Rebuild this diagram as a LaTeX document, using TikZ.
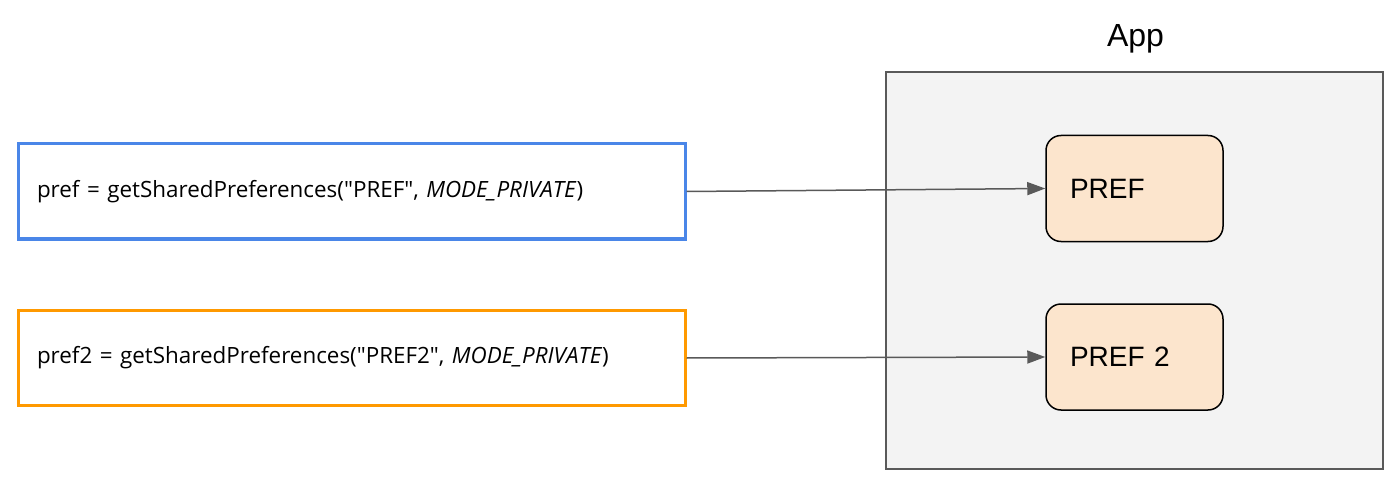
\documentclass[tikz,border=0pt]{standalone}
\usepackage{fontspec}
\setmainfont{Liberation Sans}
\newfontfamily\codefont{Open Sans}
\usetikzlibrary{arrows.meta}
\definecolor{gblue}{HTML}{4A86E8}
\definecolor{gorange}{HTML}{FF9900}
\definecolor{appfill}{HTML}{F3F3F3}
\definecolor{appline}{HTML}{595959}
\definecolor{preffill}{HTML}{FCE5CD}
\definecolor{arrowgray}{HTML}{595959}
\tikzset{
  codebox/.style={draw, line width=3pt, fill=white, minimum width=667pt, minimum height=95pt,
    text width=629pt, inner xsep=19pt, inner ysep=0pt, align=left,
    font=\codefont\fontsize{22.4pt}{26pt}\selectfont},
  appbox/.style={draw=appline, line width=2pt, fill=appfill, minimum width=497pt, minimum height=397pt, inner sep=0pt},
  prefbox/.style={draw=black, line width=1.5pt, fill=preffill, rounded corners=15pt,
    minimum width=177pt, minimum height=106pt, text width=129pt, inner xsep=24pt, inner ysep=0pt,
    align=left, font=\fontsize{28pt}{32pt}\selectfont},
  conn/.style={draw=arrowgray, line width=1.5pt, -{Triangle[length=18pt,width=13pt]}},
}
\begin{document}
\begin{tikzpicture}[x=1pt,y=-1pt]
\useasboundingbox (0,0) rectangle (1400,489);
\node[appbox] (app) at (1134.5,270.5) {};
\node[font=\fontsize{32pt}{36pt}\selectfont, anchor=base] (apptitle) at (1135.5,47) {App};
\node[prefbox] (pref) at (1134.5,188.5) {PREF};
\node[prefbox] (pref2) at (1134.5,357) {PREF 2};
\node[codebox, draw=gblue] (code1) at (351.5,191.5) {pref = getSharedPreferences("PREF", \textit{MODE\_PRIVATE})};
\node[codebox, draw=gorange] (code2) at (351.5,358) {pref2 = getSharedPreferences("PREF2", \textit{MODE\_PRIVATE})};
\draw[conn] (code1.east) -- (pref.west);
\draw[conn] (code2.east) -- (pref2.west);
\end{tikzpicture}
\end{document}
